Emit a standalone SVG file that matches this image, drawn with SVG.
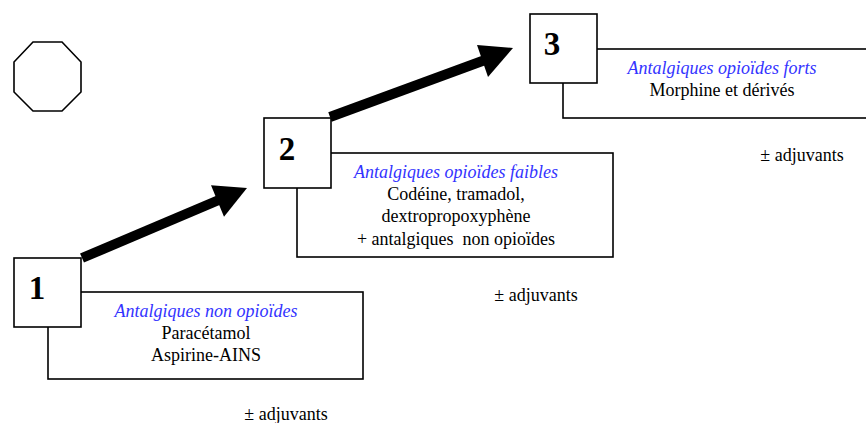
<svg xmlns="http://www.w3.org/2000/svg" width="866" height="423" viewBox="0 0 866 423">
<style>
.box{fill:#fff;stroke:#000;stroke-width:1.6}
.num{font-family:"Liberation Serif","Times New Roman",serif;font-weight:bold;font-size:33px;text-anchor:middle;fill:#000}
.t{font-family:"Liberation Serif","Times New Roman",serif;font-size:18px;text-anchor:middle;fill:#000;white-space:pre}
.b{font-style:italic;fill:#3333ff}
.arr{fill:#000}
.shaft{stroke:#000;stroke-width:10;fill:none}
</style>
<rect width="866" height="423" fill="#fff"/>
<g id="octagon">
<polygon class="box" points="33,42 62,42 81,62 81,92 62,111 33,111 14,92 14,62"/>
</g>
<g id="connectors">
<line class="shaft" x1="82" y1="258" x2="220" y2="199.5"/>
<polygon class="arr" points="211,185.3 247,188 224,216.7"/>
<line class="shaft" x1="330" y1="117" x2="485" y2="60"/>
<polygon class="arr" points="477,45 513,48 488,77"/>
</g>
<g id="step1">
<rect class="box" x="48" y="292" width="315" height="87"/>
<rect class="box" x="14" y="258" width="67" height="69"/>
<text class="num" x="37" y="299">1</text>
<text class="t b" x="206" y="317">Antalgiques non opioïdes</text>
<text class="t" x="206" y="339">Paracétamol</text>
<text class="t" x="206" y="361">Aspirine-AINS</text>
<text class="t" x="286" y="420">± adjuvants</text>
</g>
<g id="step2">
<rect class="box" x="297" y="153" width="316" height="104"/>
<rect class="box" x="264" y="118" width="67" height="70"/>
<text class="num" x="287" y="160">2</text>
<text class="t b" x="456" y="178">Antalgiques opioïdes faibles</text>
<text class="t" x="456" y="200">Codéine, tramadol,</text>
<text class="t" x="456" y="222">dextropropoxyphène</text>
<text class="t" x="456" y="245">+ antalgiques  non opioïdes</text>
<text class="t" x="536" y="301">± adjuvants</text>
</g>
<g id="step3">
<rect class="box" x="563" y="49" width="310" height="69"/>
<rect class="box" x="530" y="14" width="67" height="69"/>
<text class="num" x="552" y="55">3</text>
<text class="t b" x="722" y="74">Antalgiques opioïdes forts</text>
<text class="t" x="722" y="96">Morphine et dérivés</text>
<text class="t" x="802" y="161">± adjuvants</text>
</g>
</svg>
